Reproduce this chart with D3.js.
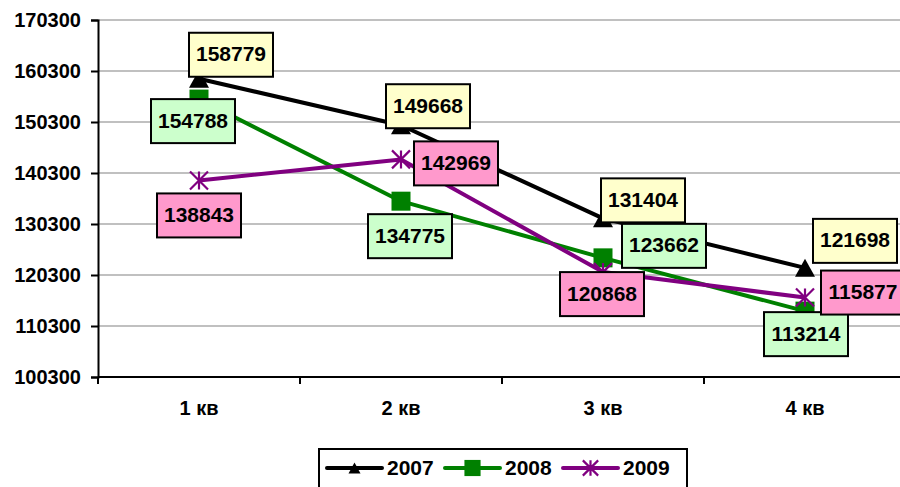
<!DOCTYPE html>
<html>
<head>
<meta charset="utf-8">
<script src="https://cdn.jsdelivr.net/npm/d3@7"></script>
<style>
  body { margin: 0; background: #fff; }
  svg { display: block; }
</style>
</head>
<body>
<div id="chart-container"></div>
<script>
const categories = ['1 кв', '2 кв', '3 кв', '4 кв']
const seriesNames = ['2007', '2008', '2009']
const values2007 = [158779, 149668, 131404, 121698]
const values2008 = [154788, 134775, 123662, 113214]
const values2009 = [138843, 142969, 120868, 115877]
const yTicks = [100300, 110300, 120300, 130300, 140300, 150300, 160300, 170300]

// label box offsets from the point (box centre), px
const labelOffsets = [
  [[32, -24], [27, -19], [40, -18], [50, -27]],
  [[-6, 22], [9, 35], [61, -12], [1, 23]],
  [[0, 35], [55, 4], [-1, 22], [58, -5]],
]

const width = 900
const height = 487
const plotLeft = 98
const plotTop = 20
const plotBottom = 377
const bandWidth = 202

const colors = ['#000000', '#008000', '#800080']
const boxFills = ['#FFFFCC', '#CCFFCC', '#FF99CC']
const font = "'Liberation Sans', Arial, sans-serif"

const series = seriesNames.map((name, i) => ({
  name,
  values: [values2007, values2008, values2009][i],
  color: colors[i],
  fill: boxFills[i],
  index: i,
}))

const svg = d3
  .select('#chart-container')
  .append('svg')
  .attr('width', width)
  .attr('height', height)
  .attr('viewBox', `0 0 ${width} ${height}`)

const x = d3
  .scaleBand()
  .domain(categories)
  .range([plotLeft, plotLeft + bandWidth * categories.length])
  .padding(0)

const y = d3
  .scaleLinear()
  .domain([d3.min(yTicks), d3.max(yTicks)])
  .range([plotBottom, plotTop])

// grid lines
svg
  .append('g')
  .selectAll('line')
  .data(yTicks.slice(1))
  .join('line')
  .attr('x1', plotLeft)
  .attr('x2', width)
  .attr('y1', d => y(d))
  .attr('y2', d => y(d))
  .attr('stroke', '#c0c0c0')
  .attr('stroke-width', 2)

// y axis
const yAxis = svg
  .append('g')
  .attr('transform', `translate(${plotLeft}, 0)`)
  .call(d3.axisLeft(y).tickValues(yTicks).tickSize(7).tickPadding(10).tickFormat(d => d))
yAxis.select('.domain').attr('stroke', '#000').attr('stroke-width', 2)
yAxis.selectAll('.tick line').attr('stroke', '#000').attr('stroke-width', 2)
yAxis
  .selectAll('.tick text')
  .attr('font-family', font)
  .attr('font-weight', 'bold')
  .attr('font-size', 20)
  .attr('fill', '#000')

// x axis
svg
  .append('line')
  .attr('x1', plotLeft)
  .attr('x2', width)
  .attr('y1', plotBottom)
  .attr('y2', plotBottom)
  .attr('stroke', '#000')
  .attr('stroke-width', 2)

svg
  .append('g')
  .selectAll('line')
  .data(categories)
  .join('line')
  .attr('x1', d => x(d))
  .attr('x2', d => x(d))
  .attr('y1', plotBottom)
  .attr('y2', plotBottom + 7)
  .attr('stroke', '#000')
  .attr('stroke-width', 2)

svg
  .append('g')
  .selectAll('text')
  .data(categories)
  .join('text')
  .attr('x', d => x(d) + x.bandwidth() / 2)
  .attr('y', 410)
  .attr('text-anchor', 'middle')
  .attr('dominant-baseline', 'middle')
  .attr('font-family', font)
  .attr('font-weight', 'bold')
  .attr('font-size', 20)
  .text(d => d)

const px = (d, i) => x(categories[i]) + x.bandwidth() / 2

function drawMarker(g, s, cx, cy, scale) {
  if (s.index === 0) {
    const w = 20 * scale
    const h = 18 * scale
    g.append('path')
      .attr('d', `M${cx},${cy - h / 2}L${cx + w / 2},${cy + h / 2}L${cx - w / 2},${cy + h / 2}Z`)
      .attr('fill', s.color)
  } else if (s.index === 1) {
    const w = 19 * scale
    g.append('rect')
      .attr('x', cx - w / 2)
      .attr('y', cy - w / 2)
      .attr('width', w)
      .attr('height', w)
      .attr('fill', s.color)
  } else {
    const r = 9 * scale
    g.append('path')
      .attr(
        'd',
        `M${cx},${cy - r}L${cx},${cy + r}` +
          `M${cx - r},${cy - r}L${cx + r},${cy + r}` +
          `M${cx + r},${cy - r}L${cx - r},${cy + r}`,
      )
      .attr('stroke', s.color)
      .attr('stroke-width', 2.2)
      .attr('fill', 'none')
  }
}

const line = d3
  .line()
  .x(px)
  .y(d => y(d))

// series lines and markers
series.forEach(s => {
  const g = svg.append('g')
  g.append('path')
    .attr('d', line(s.values))
    .attr('fill', 'none')
    .attr('stroke', s.color)
    .attr('stroke-width', 4)
    .attr('stroke-linejoin', 'round')
  s.values.forEach((v, i) => drawMarker(g, s, px(v, i), y(v), 1))
})

// data labels
const boxW = 84
const boxH = 44
series.forEach(s => {
  const g = svg.append('g')
  s.values.forEach((v, i) => {
    const [dx, dy] = labelOffsets[s.index][i]
    const cx = px(v, i) + dx
    const cy = y(v) + dy
    g.append('rect')
      .attr('x', cx - boxW / 2)
      .attr('y', cy - boxH / 2)
      .attr('width', boxW)
      .attr('height', boxH)
      .attr('fill', s.fill)
      .attr('stroke', '#000')
      .attr('stroke-width', 2)
    g.append('text')
      .attr('x', cx)
      .attr('y', cy + 1)
      .attr('text-anchor', 'middle')
      .attr('dominant-baseline', 'middle')
      .attr('font-family', font)
      .attr('font-weight', 'bold')
      .attr('font-size', 21)
      .text(v)
  })
})

// legend
const legend = svg.append('g')
legend
  .append('rect')
  .attr('x', 319)
  .attr('y', 449)
  .attr('width', 368)
  .attr('height', 50)
  .attr('fill', '#fff')
  .attr('stroke', '#000')
  .attr('stroke-width', 2)

const legendX = [327, 445, 563]
series.forEach((s, i) => {
  const lx = legendX[i]
  const ly = 468
  legend
    .append('line')
    .attr('x1', lx)
    .attr('x2', lx + 55)
    .attr('y1', ly)
    .attr('y2', ly)
    .attr('stroke', s.color)
    .attr('stroke-width', 4)
    .attr('stroke-linecap', 'round')
  drawMarker(legend, s, lx + 27.5, ly, s.index === 0 ? 0.6 : 0.85)
  legend
    .append('text')
    .attr('x', lx + 60)
    .attr('y', ly + 1)
    .attr('dominant-baseline', 'middle')
    .attr('font-family', font)
    .attr('font-weight', 'bold')
    .attr('font-size', 21)
    .text(s.name)
})
</script>
</body>
</html>
